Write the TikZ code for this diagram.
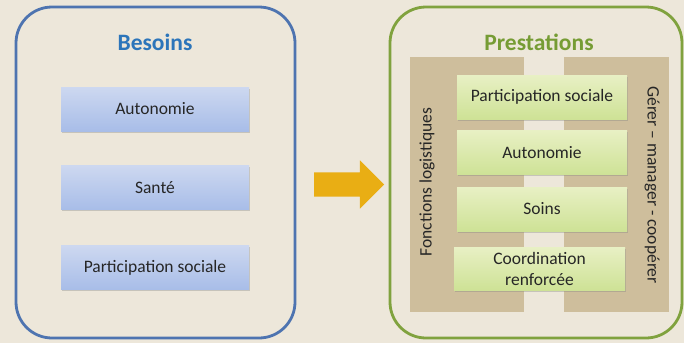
\documentclass[tikz,border=0pt]{standalone}
\usepackage{fontspec}
\setmainfont{Carlito}
\usetikzlibrary{shapes.arrows,shadows}

\definecolor{fond}{RGB}{237,231,218}
\definecolor{bleutrait}{RGB}{78,116,176}
\definecolor{bleutitre}{RGB}{44,117,186}
\definecolor{bleuhaut}{RGB}{205,216,240}
\definecolor{bleubas}{RGB}{168,189,232}
\definecolor{verttrait}{RGB}{128,162,62}
\definecolor{verttitre}{RGB}{118,156,52}
\definecolor{verthaut}{RGB}{232,240,196}
\definecolor{vertbas}{RGB}{206,226,150}
\definecolor{brun}{RGB}{201,183,146}
\definecolor{fleche}{RGB}{233,174,20}

\tikzset{
    cadre/.style={draw=#1, line width=2.8pt, rounded corners=36pt, inner sep=0pt},
    titre/.style={text=#1, font=\fontsize{23.5}{26}\selectfont\bfseries},
    besoin/.style={minimum width=188pt, minimum height=44pt, inner sep=0pt,
        top color=bleuhaut, bottom color=bleubas, text=black!85,
        drop shadow={shadow xshift=1pt, shadow yshift=-1.5pt, opacity=0.35},
        font=\fontsize{17.5}{20}\selectfont},
    prestation/.style={minimum width=170pt, minimum height=44pt, inner sep=0pt,
        top color=verthaut, bottom color=vertbas, align=center, text=black!85,
        drop shadow={shadow xshift=1pt, shadow yshift=-1.5pt, opacity=0.35},
        font=\fontsize{17.5}{20}\selectfont},
    pilier/.style={fill=brun, fill opacity=0.85, minimum height=255pt, inner sep=0pt},
    vertical/.style={font=\fontsize{17.5}{20}\selectfont, text=black!85}
}

\begin{document}
\begin{tikzpicture}[x=1pt, y=-1pt]
    \fill[fond] (0,0) rectangle (684,343);
    \useasboundingbox (0,0) rectangle (684,343);

    % besoins
    \node[cadre=bleutrait, minimum width=279pt, minimum height=331pt] (gauche) at (155.5,172.5) {};
    \node[titre=bleutitre] (besoins) at (155,42) {Besoins};
    \node[besoin] (autonomie) at (155,109) {Autonomie};
    \node[besoin] (sante) at (155,187.5) {Santé};
    \node[besoin] (participation) at (155,267.5) {Participation sociale};

    % fleche
    \node[single arrow, fill=fleche, inner xsep=0pt, inner ysep=12pt, minimum height=70pt,
        single arrow head extend=12pt, single arrow head indent=0pt] (fleche) at (343,184.5) {};

    % prestations
    \node[cadre=verttrait, minimum width=292pt, minimum height=331pt] (droite) at (536,172.5) {};
    \node[titre=verttitre] (prestations) at (539,42) {Prestations};
    \node[pilier, minimum width=114pt] (logistique) at (467,184.5) {};
    \node[pilier, minimum width=105pt] (gerer) at (616.5,184.5) {};
    \node[vertical, rotate=90] (fonctions) at (427,182) {Fonctions logistiques};
    \node[vertical, rotate=-90] (manager) at (652,185) {Gérer -- manager - coopérer};

    \node[prestation] (psociale) at (542,97) {Participation sociale};
    \node[prestation] (pautonomie) at (542,152.5) {Autonomie};
    \node[prestation] (soins) at (542,209) {Soins};
    \node[prestation, minimum width=171pt, minimum height=43pt, font=\fontsize{17.5}{21}\selectfont] (coordination) at (539.5,268.5) {Coordination\\renforcée};
\end{tikzpicture}
\end{document}
